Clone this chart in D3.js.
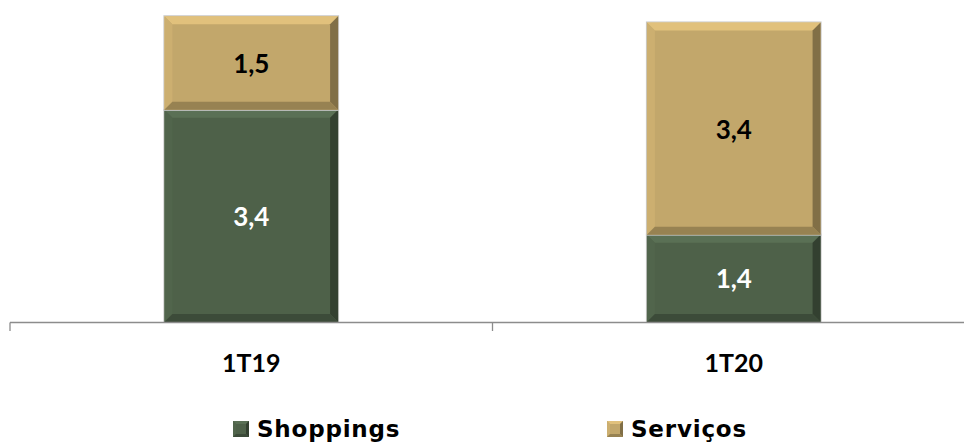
<!DOCTYPE html>
<html>
<head>
<meta charset="utf-8">
<script src="https://cdn.jsdelivr.net/npm/d3@7"></script>
<style>
  html, body { margin: 0; padding: 0; background: #ffffff; }
  svg { display: block; font-family: "Century Gothic", "Lato", "Open Sans", sans-serif; }
</style>
</head>
<body>
<svg id="chart" width="964" height="445"></svg>
<script>
// Quarterly split by segment
const periods = ["1T19", "1T20"];
const shoppings = [3.4, 1.4];
const servicos = [1.5, 3.4];
const seriesNames = ["Shoppings", "Serviços"];
const seriesColors = ["#4e6149", "#c2a76b"];
const labelColors = ["#ffffff", "#000000"];

const W = 964, H = 445;
const svg = d3.select("#chart");

const x = d3.scaleBand().domain(periods).range([10, 975]).paddingInner(0.64).paddingOuter(0.32);
const y = d3.scaleLinear().domain([0, 5]).range([322, 10]);

const fmt = v => d3.format(".1f")(v).replace(".", ",");

// stacked layout
const rows = periods.map((p, i) => ({ period: p, Shoppings: shoppings[i], "Serviços": servicos[i] }));
const stack = d3.stack().keys(seriesNames)(rows);

// bevelled rectangle: flat face plus four shaded edge trapezoids
function bevelRect(g, x0, y0, w, h, color, b, outline) {
  const c = d3.color(color);
  if (outline) {
    g.append("rect").attr("x", x0 - 0.5).attr("y", y0 - 0.5).attr("width", w + 1).attr("height", h + 1)
      .attr("fill", "none").attr("stroke", "#c8c8c8").attr("stroke-width", 1);
  }
  g.append("rect").attr("x", x0).attr("y", y0).attr("width", w).attr("height", h).attr("fill", color);
  const x1 = x0 + w, y1 = y0 + h;
  const pts = {
    top: [[x0, y0], [x1, y0], [x1 - b, y0 + b], [x0 + b, y0 + b]],
    left: [[x0, y0], [x0 + b, y0 + b], [x0 + b, y1 - b], [x0, y1]],
    right: [[x1, y0], [x1, y1], [x1 - b, y1 - b], [x1 - b, y0 + b]],
    bottom: [[x0, y1], [x0 + b, y1 - b], [x1 - b, y1 - b], [x1, y1]]
  };
  const shades = {
    top: c.brighter(0.45),
    left: c.brighter(0.15),
    right: c.darker(1.3),
    bottom: c.darker(0.8)
  };
  Object.keys(pts).forEach(k => {
    g.append("path").attr("d", d3.line()(pts[k]) + "Z").attr("fill", shades[k]).attr("opacity", 0.9);
  });
}

const bars = svg.append("g");
stack.forEach((layer, si) => {
  layer.forEach((d, i) => {
    const bx = x(periods[i]), bw = x.bandwidth();
    const top = y(d[1]), bot = y(d[0]);
    const g = bars.append("g");
    bevelRect(g, bx, top, bw, bot - top, seriesColors[si], 8, true);
    g.append("text")
      .attr("x", bx + bw / 2).attr("y", (top + bot) / 2)
      .attr("text-anchor", "middle").attr("dominant-baseline", "central")
      .attr("font-size", 26).attr("font-weight", "bold")
      .attr("fill", labelColors[si])
      .text(fmt(d[1] - d[0]));
  });
});

// category axis
const axis = svg.append("g").attr("stroke", "#8c8c8c").attr("stroke-width", 1.3);
axis.append("line").attr("x1", 10).attr("x2", W).attr("y1", 322.5).attr("y2", 322.5);
const tickXs = [10, 10 + x.step()];
tickXs.forEach(t => axis.append("line").attr("x1", t).attr("x2", t).attr("y1", 322.5).attr("y2", 331));

svg.append("g").selectAll("text").data(periods).join("text")
  .attr("x", d => x(d) + x.bandwidth() / 2).attr("y", 362)
  .attr("text-anchor", "middle").attr("dominant-baseline", "central")
  .attr("font-size", 25).attr("font-weight", "bold").attr("fill", "#000")
  .text(d => d);

// legend
const legendX = [233, 607];
const leg = svg.append("g");
seriesNames.forEach((name, i) => {
  const g = leg.append("g").attr("transform", `translate(${legendX[i]},0)`);
  bevelRect(g, 0, 421, 16, 16, seriesColors[i], 3, false);
  g.append("text").attr("x", 24).attr("y", 437)
    .attr("font-family", "'DejaVu Sans', sans-serif")
    .attr("font-size", 23).attr("font-weight", "bold").attr("letter-spacing", 0.8)
    .attr("fill", "#000").text(name);
});
</script>
</body>
</html>
